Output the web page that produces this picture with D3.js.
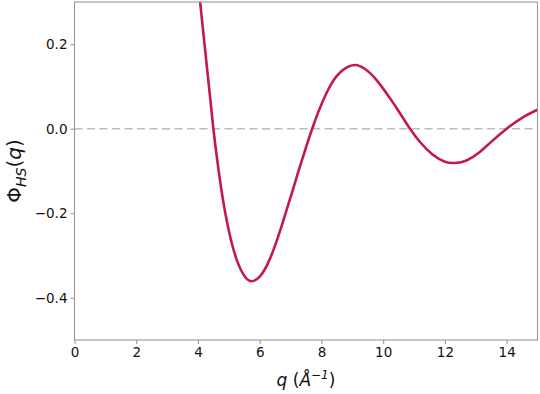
<!DOCTYPE html>
<html><head><meta charset="utf-8">
<script src="https://cdn.jsdelivr.net/npm/d3@7"></script>
<style>body{margin:0;background:#fff}svg{display:block}</style>
</head><body>
<svg id="c" width="540" height="394"></svg>
<script>
const qValues = [3.95,4.07,4.29,4.50,4.645,4.775,4.99,5.26,5.53,5.75,6.0,6.25,6.5,6.75,7.0,7.25,7.5,7.70,7.90,8.18,8.50,8.82,9.10,9.40,9.80,10.28,10.55,10.87,11.2,11.6,12.0,12.33,12.7,13.1,13.5,14.0,14.5,15.0];
const phiValues = [0.396,0.300,0.146,0.000,-0.085,-0.152,-0.238,-0.311,-0.351,-0.361,-0.350,-0.321,-0.276,-0.221,-0.162,-0.102,-0.044,0.000,0.040,0.087,0.125,0.145,0.151,0.142,0.114,0.066,0.036,0.000,-0.032,-0.061,-0.078,-0.081,-0.075,-0.057,-0.031,0.000,0.026,0.045];
const xTicks = [0,2,4,6,8,10,12,14];
const yTicks = [-0.4,-0.2,0.0,0.2];
const xDomain = [0,15];
const yDomain = [-0.5,0.3];

const svg = d3.select("#c");
const L = 74.5, R = 537.5, T = 2, B = 340;
const x = d3.scaleLinear().domain(xDomain).range([L,R]);
const y = d3.scaleLinear().domain(yDomain).range([B,T]);

svg.append("defs").append("clipPath").attr("id","clip")
  .append("rect").attr("x",L).attr("y",T).attr("width",R-L).attr("height",B-T);

// zero line
svg.append("line").attr("x1",L).attr("x2",R).attr("y1",y(0)).attr("y2",y(0))
  .attr("stroke","#bdbdbd").attr("stroke-width",1.6).attr("stroke-dasharray","8,4.5");

const data = qValues.map((q,i)=>({q, v: phiValues[i]}));
svg.append("path").datum(data)
  .attr("clip-path","url(#clip)")
  .attr("fill","none").attr("stroke","#c2185b").attr("stroke-width",2.6)
  .attr("d", d3.line().x(d=>x(d.q)).y(d=>y(d.v)).curve(d3.curveNatural));

// frame
svg.append("rect").attr("x",L).attr("y",T).attr("width",R-L).attr("height",B-T)
  .attr("fill","none").attr("stroke","#999").attr("stroke-width",1.1);

const fmtY = d => (d<0?"\u2212":"") + Math.abs(d).toFixed(1);
const xAxis = svg.append("g").attr("transform",`translate(0,${B})`)
  .call(d3.axisBottom(x).tickValues(xTicks).tickSize(4).tickPadding(3).tickFormat(d3.format("d")));
const yAxis = svg.append("g").attr("transform",`translate(${L},0)`)
  .call(d3.axisLeft(y).tickValues(yTicks).tickSize(4).tickPadding(3).tickFormat(fmtY));
[xAxis,yAxis].forEach(a=>{
  a.select(".domain").remove();
  a.selectAll(".tick line").attr("stroke","#999").attr("stroke-width",1.1);
  a.selectAll(".tick text").attr("font-family","DejaVu Sans").attr("font-size",13.5).attr("fill","#111");
});

// x label
svg.append("text").attr("x",(L+R)/2).attr("y",386).attr("text-anchor","middle")
  .attr("font-family","DejaVu Sans").attr("font-size",17).attr("fill","#111")
  .call(t=>{
    t.append("tspan").attr("font-style","italic").text("q");
    t.append("tspan").text(" (");
    t.append("tspan").attr("font-style","italic").text("Å");
    t.append("tspan").attr("font-style","italic").attr("font-size",12).attr("dy",-7).text("\u22121");
    t.append("tspan").attr("dy",7).text(")");
  });

// y label
svg.append("text").attr("transform",`translate(21,${(T+B)/2}) rotate(-90)`)
  .attr("text-anchor","middle")
  .attr("font-family","DejaVu Sans").attr("font-size",20).attr("fill","#111")
  .call(t=>{
    t.append("tspan").text("Φ");
    t.append("tspan").attr("font-style","italic").attr("font-size",14).attr("dy",5).text("HS");
    t.append("tspan").attr("dy",-5).text("(");
    t.append("tspan").attr("font-style","italic").text("q");
    t.append("tspan").text(")");
  });
</script>
</body></html>
